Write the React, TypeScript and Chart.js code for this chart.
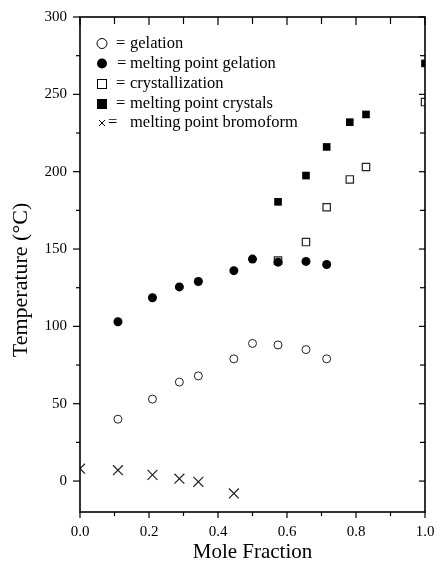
import React, { useEffect, useRef } from "react";
import { Chart, registerables } from "chart.js";

Chart.register(...registerables);

const GEL_X = [0.11, 0.21, 0.288, 0.343, 0.446, 0.5, 0.574, 0.655, 0.715];
const GEL_Y = [40, 53, 64, 68, 79, 89, 88, 85, 79];
const MPGEL_X = [0.11, 0.21, 0.288, 0.343, 0.446, 0.5, 0.574, 0.655, 0.715];
const MPGEL_Y = [103, 118.5, 125.5, 129, 136, 143.5, 141.5, 142, 140];
const CRYST_X = [0.574, 0.655, 0.715, 0.782, 0.829, 1.0];
const CRYST_Y = [142.5, 154.5, 177, 195, 203, 245];
const MPCRYST_X = [0.574, 0.655, 0.715, 0.782, 0.829, 1.0];
const MPCRYST_Y = [180.5, 197.5, 216, 232, 237, 270];
const BROM_X = [0.0, 0.11, 0.21, 0.288, 0.343, 0.446];
const BROM_Y = [8, 7, 4, 1.5, -0.5, -8];

const SERIES_NAMES = [
  "gelation",
  "melting point gelation",
  "crystallization",
  "melting point crystals",
  "melting point bromoform",
];

const X_TICKS = [0, 0.2, 0.4, 0.6, 0.8, 1.0];
const X_MINOR = [0, 0.1, 0.2, 0.3, 0.4, 0.5, 0.6, 0.7, 0.8, 0.9, 1.0];
const Y_TICKS = [0, 50, 100, 150, 200, 250, 300];
const Y_MINOR = [0, 25, 50, 75, 100, 125, 150, 175, 200, 225, 250, 275, 300];
const X_TITLE = "Mole Fraction";
const Y_TITLE = "Temperature (°C)";

const FONT = "'Liberation Serif', 'Times New Roman', serif";

const pts = (xs: number[], ys: number[]) => xs.map((x, i) => ({ x, y: ys[i] }));

function drawMarker(ctx: CanvasRenderingContext2D, kind: number, cx: number, cy: number, s: number) {
  ctx.save();
  ctx.strokeStyle = "#000";
  ctx.fillStyle = "#000";
  ctx.lineWidth = 1;
  if (kind === 0 || kind === 1) {
    ctx.beginPath();
    ctx.arc(cx, cy, s, 0, Math.PI * 2);
    if (kind === 1) ctx.fill();
    else {
      ctx.fillStyle = "#fff";
      ctx.fill();
      ctx.stroke();
    }
  } else if (kind === 2 || kind === 3) {
    if (kind === 3) ctx.fillRect(cx - s, cy - s, 2 * s, 2 * s);
    else {
      ctx.fillStyle = "#fff";
      ctx.fillRect(cx - s, cy - s, 2 * s, 2 * s);
      ctx.strokeRect(cx - s + 0.5, cy - s + 0.5, 2 * s - 1, 2 * s - 1);
    }
  } else {
    const a = s * 0.75;
    ctx.beginPath();
    ctx.moveTo(cx - a, cy - a);
    ctx.lineTo(cx + a, cy + a);
    ctx.moveTo(cx + a, cy - a);
    ctx.lineTo(cx - a, cy + a);
    ctx.stroke();
  }
  ctx.restore();
}

const framePlugin = {
  id: "frame",
  afterDraw(chart: any) {
    const { ctx, chartArea } = chart;
    const { left, right, top, bottom } = chartArea;
    const xs = chart.scales.x;
    const ys = chart.scales.y;
    ctx.save();
    ctx.strokeStyle = "#000";
    ctx.lineWidth = 1.6;
    ctx.strokeRect(left, top, right - left, bottom - top);
    ctx.lineWidth = 1.2;
    const line = (x1: number, y1: number, x2: number, y2: number) => {
      ctx.beginPath();
      ctx.moveTo(x1, y1);
      ctx.lineTo(x2, y2);
      ctx.stroke();
    };
    X_MINOR.forEach((v) => {
      const px = xs.getPixelForValue(v);
      const major = X_TICKS.some((t) => Math.abs(t - v) < 1e-6);
      const len = major ? 6 : 4;
      line(px, bottom, px, bottom + len);
      line(px, top, px, top + (major ? 8 : 7));
    });
    Y_MINOR.forEach((v) => {
      const py = ys.getPixelForValue(v);
      const major = Y_TICKS.includes(v);
      const len = major ? 7 : 4;
      line(left - len, py, left, py);
      line(right, py, right - (major ? 6 : 5), py);
    });

    // axis titles
    ctx.fillStyle = "#000";
    ctx.font = `21px ${FONT}`;
    ctx.textAlign = "center";
    ctx.textBaseline = "middle";
    ctx.fillText(X_TITLE, (left + right) / 2, 552);
    ctx.save();
    ctx.translate(21, 280);
    ctx.rotate(-Math.PI / 2);
    ctx.font = `22px ${FONT}`;
    ctx.fillText(Y_TITLE, 0, 0);
    ctx.restore();

    // legend
    ctx.font = `16.5px ${FONT}`;
    ctx.textAlign = "left";
    ctx.textBaseline = "middle";
    const rowY = [43.5, 63.5, 84, 104, 123];
    const eqX = [116, 117, 116, 116, 108];
    SERIES_NAMES.forEach((name, i) => {
      const cy = rowY[i];
      drawMarker(ctx, i, 102, cy, i === 4 ? 4 : 5);
      ctx.fillText("=", eqX[i], cy);
      ctx.fillText(name, 130, cy);
    });
    ctx.restore();
  },
};

export default function App() {
  const ref = useRef<HTMLCanvasElement>(null);
  useEffect(() => {
    if (!ref.current) return;
    const chart = new Chart(ref.current, {
      type: "scatter",
      data: {
        datasets: [
          {
            label: SERIES_NAMES[0],
            data: pts(GEL_X, GEL_Y),
            pointStyle: "circle",
            pointRadius: 4,
            backgroundColor: "#fff",
            borderColor: "#222",
            borderWidth: 1,
            clip: 0,
          },
          {
            label: SERIES_NAMES[1],
            data: pts(MPGEL_X, MPGEL_Y),
            pointStyle: "circle",
            pointRadius: 4.5,
            backgroundColor: "#000",
            borderColor: "#000",
            borderWidth: 0,
            clip: 0,
          },
          {
            label: SERIES_NAMES[2],
            data: pts(CRYST_X, CRYST_Y),
            pointStyle: "rect",
            pointRadius: 5.2,
            backgroundColor: "#fff",
            borderColor: "#222",
            borderWidth: 1.2,
            clip: 0,
          },
          {
            label: SERIES_NAMES[3],
            data: pts(MPCRYST_X, MPCRYST_Y),
            pointStyle: "rect",
            pointRadius: 5.4,
            backgroundColor: "#000",
            borderColor: "#000",
            borderWidth: 0,
            clip: 0,
          },
          {
            label: SERIES_NAMES[4],
            data: pts(BROM_X, BROM_Y),
            pointStyle: "crossRot",
            pointRadius: 7,
            backgroundColor: "#000",
            borderColor: "#222",
            borderWidth: 1.2,
            clip: 0,
          },
        ],
      },
      options: {
        responsive: false,
        animation: false,
        layout: { padding: { left: 0, right: 11, top: 17, bottom: 0 } },
        plugins: { legend: { display: false }, tooltip: { enabled: false } },
        scales: {
          x: {
            type: "linear",
            min: 0,
            max: 1,
            grid: { display: false, drawTicks: false },
            border: { display: false },
            afterBuildTicks: (s: any) => {
              s.ticks = X_TICKS.map((v) => ({ value: v }));
            },
            afterFit: (s: any) => {
              s.height = 51;
              s.paddingLeft = 0;
              s.paddingRight = 0;
            },
            ticks: {
              color: "#000",
              font: { family: FONT, size: 15 },
              padding: 11,
              maxRotation: 0,
              callback: (v: any) => Number(v).toFixed(1),
            },
          },
          y: {
            type: "linear",
            min: -20,
            max: 300,
            grid: { display: false, drawTicks: false },
            border: { display: false },
            afterBuildTicks: (s: any) => {
              s.ticks = Y_TICKS.map((v) => ({ value: v }));
            },
            afterFit: (s: any) => {
              s.width = 80;
              s.paddingTop = 0;
              s.paddingBottom = 0;
            },
            ticks: {
              color: "#000",
              font: { family: FONT, size: 15 },
              padding: 13,
              callback: (v: any) => String(v),
            },
          },
        },
      },
      plugins: [framePlugin],
    });
    return () => chart.destroy();
  }, []);
  return (
    <div style={{ position: "fixed", left: 0, top: 0, width: 436, height: 563, background: "#fff" }}>
      <canvas ref={ref} width={436} height={563} style={{ width: 436, height: 563, display: "block" }} />
    </div>
  );
}
